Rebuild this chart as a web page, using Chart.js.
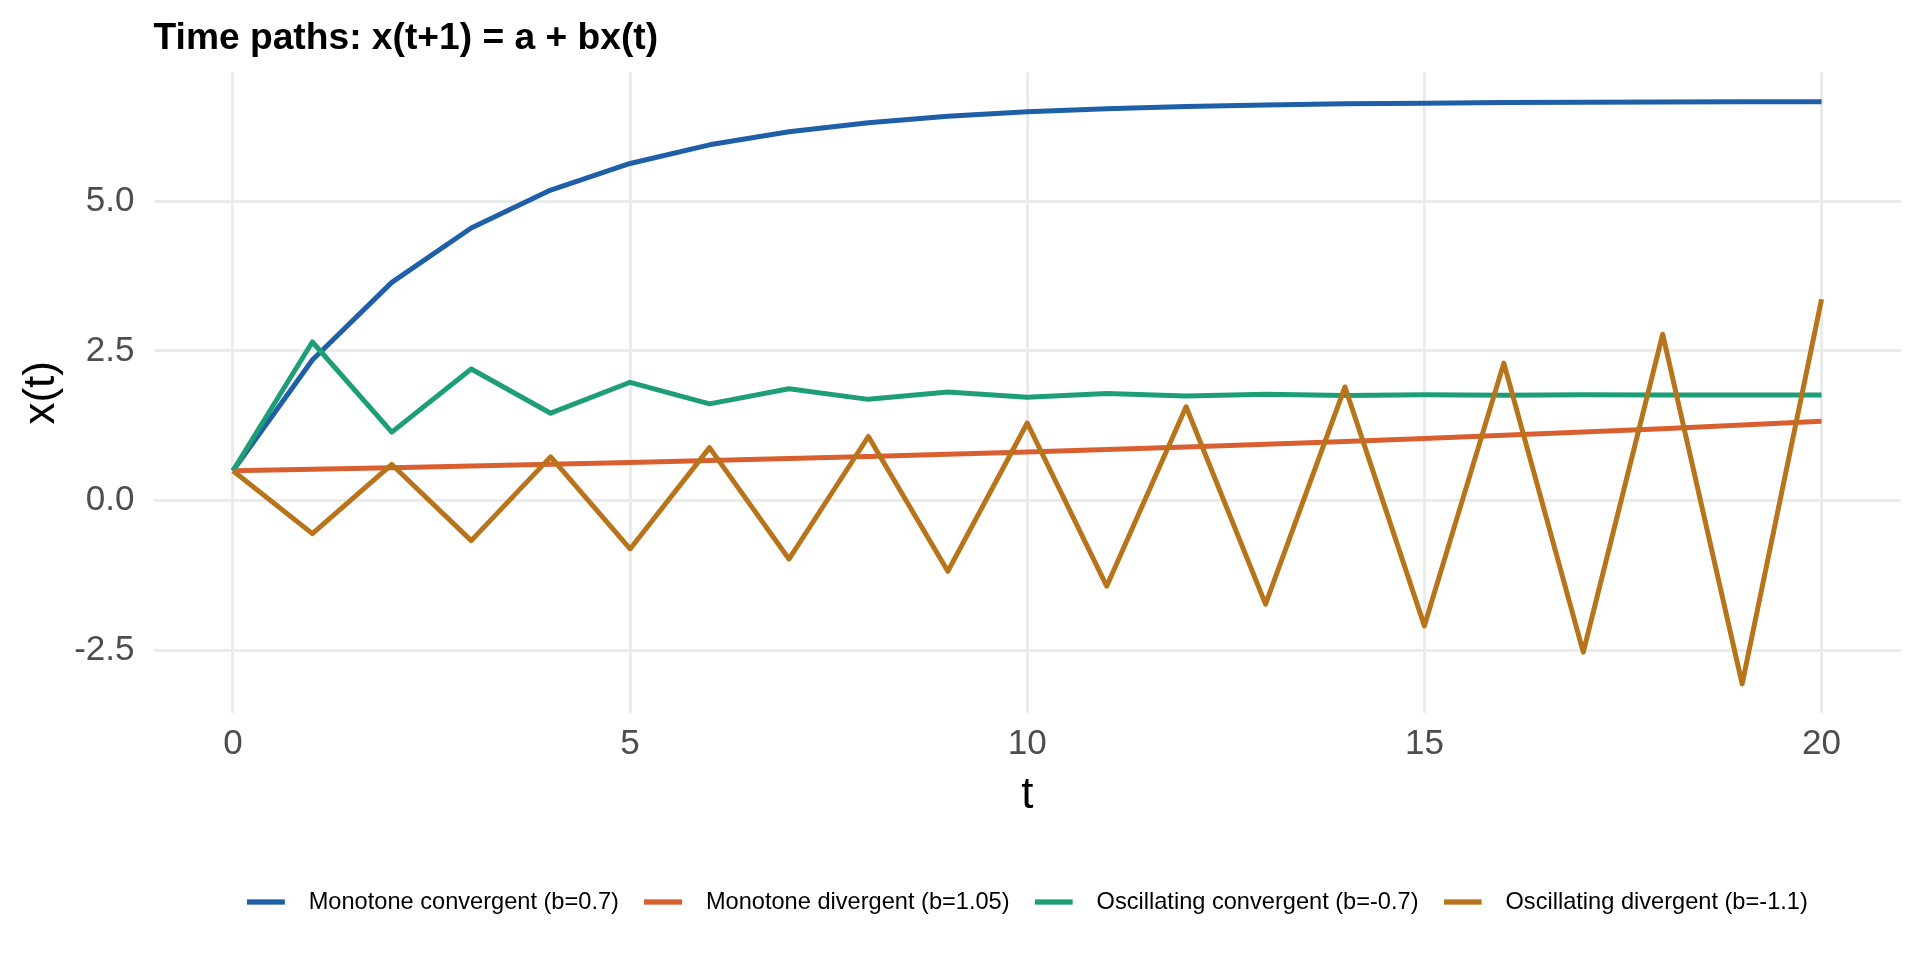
<!DOCTYPE html>
<html>
<head>
<meta charset="utf-8">
<script src="https://cdn.jsdelivr.net/npm/chart.js@4.4.1/dist/chart.umd.min.js"></script>
<style>
  html, body { margin: 0; padding: 0; background: #ffffff; }
  #wrap { width: 1920px; height: 960px; position: relative; }
</style>
</head>
<body>
<div id="wrap"><canvas id="c"></canvas></div>
<script>
const titleText = "Time paths: x(t+1) = a + bx(t)";
const xTitle = "t";
const yTitle = "x(t)";
const tValues = [0, 1, 2, 3, 4, 5, 6, 7, 8, 9, 10, 11, 12, 13, 14, 15, 16, 17, 18, 19, 20];
const seriesNames = [
  "Monotone convergent (b=0.7)",
  "Monotone divergent (b=1.05)",
  "Oscillating convergent (b=-0.7)",
  "Oscillating divergent (b=-1.1)"
];
const monotoneConvergent = [0.5, 2.35, 3.645, 4.552, 5.186, 5.630, 5.941, 6.159, 6.311, 6.418, 6.493, 6.545, 6.581, 6.607, 6.625, 6.637, 6.646, 6.652, 6.657, 6.660, 6.662];
const monotoneDivergent = [0.5, 0.525, 0.551, 0.579, 0.608, 0.638, 0.670, 0.704, 0.739, 0.776, 0.814, 0.855, 0.898, 0.943, 0.990, 1.039, 1.091, 1.146, 1.203, 1.263, 1.327];
const oscillatingConvergent = [0.5, 2.65, 1.145, 2.199, 1.461, 1.977, 1.616, 1.869, 1.692, 1.816, 1.729, 1.790, 1.747, 1.777, 1.756, 1.771, 1.761, 1.768, 1.763, 1.766, 1.764];
const oscillatingDivergent = [0.5, -0.55, 0.605, -0.666, 0.732, -0.805, 0.886, -0.974, 1.072, -1.179, 1.297, -1.427, 1.569, -1.726, 1.899, -2.089, 2.297, -2.527, 2.780, -3.058, 3.364];
const xTicks = [0, 5, 10, 15, 20];
const yTicks = [-2.5, 0, 2.5, 5.0];
const yTickLabels = ["-2.5", "0.0", "2.5", "5.0"];
const seriesColors = ["#1F5FA8", "#D95F30", "#1E9E77", "#B8741A"];

const allSeries = [monotoneConvergent, monotoneDivergent, oscillatingConvergent, oscillatingDivergent];
const FONT = "'Liberation Sans', Arial, Helvetica, sans-serif";
const LEGEND_FONT_SIZE = 23.6;
const SWATCH_LEN = 38;
const SWATCH_SLOT = 50.2;

function makeSwatch(color) {
  const cv = document.createElement('canvas');
  cv.width = Math.round(SWATCH_SLOT);
  cv.height = 8;
  const g = cv.getContext('2d');
  g.fillStyle = color;
  g.fillRect(0, 1.35, SWATCH_LEN, 5.3);
  return cv;
}
const swatches = seriesColors.map(makeSwatch);

const datasets = allSeries.map((vals, i) => ({
  label: seriesNames[i],
  data: tValues.map((t, j) => ({ x: t, y: vals[j] })),
  borderColor: seriesColors[i],
  backgroundColor: seriesColors[i],
  borderWidth: 5,
  pointRadius: 0,
  pointHoverRadius: 0,
  tension: 0,
  fill: false,
  borderJoinStyle: 'round',
  borderCapStyle: 'butt',
  order: allSeries.length - i
}));

new Chart(document.getElementById('c'), {
  type: 'line',
  data: { datasets },
  options: {
    responsive: true,
    maintainAspectRatio: false,
    animation: false,
    devicePixelRatio: 1,
    layout: { padding: { left: 0, right: 19, top: 0, bottom: 36.2 } },
    plugins: {
      tooltip: { enabled: false },
      title: {
        display: true,
        text: titleText,
        align: 'start',
        fullSize: false,
        color: '#000000',
        font: { family: FONT, size: 37.2, weight: 'bold', lineHeight: 1.2 },
        padding: { top: 16.2, bottom: 11.7 }
      },
      legend: {
        display: true,
        position: 'bottom',
        fullSize: false,
        align: 'center',
        labels: {
          usePointStyle: true,
          pointStyleWidth: SWATCH_SLOT,
          boxHeight: 8,
          padding: 25,
          color: '#000000',
          font: { family: FONT, size: LEGEND_FONT_SIZE },
          sort: (a, b) => a.datasetIndex - b.datasetIndex,
          generateLabels: (chart) => {
            const items = Chart.defaults.plugins.legend.labels.generateLabels(chart);
            items.forEach(it => {
              it.pointStyle = swatches[it.datasetIndex];
              it.lineWidth = 0;
            });
            return items;
          }
        }
      }
    },
    scales: {
      x: {
        type: 'linear',
        min: -1,
        max: 21,
        afterBuildTicks: (scale) => { scale.ticks = xTicks.map(v => ({ value: v })); },
        afterFit: (scale) => { scale.height = 152.2; },
        ticks: {
          color: '#4D4D4D',
          font: { family: FONT, size: 35 },
          padding: 10,
          maxRotation: 0,
          autoSkip: false,
          callback: (v) => String(v)
        },
        grid: { color: '#EBEBEB', lineWidth: 3, drawTicks: false },
        border: { display: false },
        title: {
          display: true,
          text: xTitle,
          color: '#000000',
          font: { family: FONT, size: 44, lineHeight: 1.2 },
          padding: { top: 0, bottom: 42.8 }
        }
      },
      y: {
        type: 'linear',
        min: -3.544,
        max: 7.148,
        afterBuildTicks: (scale) => { scale.ticks = yTicks.map(v => ({ value: v })); },
        afterFit: (scale) => { scale.width = 153.5; },
        ticks: {
          color: '#4D4D4D',
          font: { family: FONT, size: 35 },
          padding: 19,
          autoSkip: false,
          callback: (v) => { const k = yTicks.indexOf(v); return k >= 0 ? yTickLabels[k] : ''; }
        },
        grid: { color: '#EBEBEB', lineWidth: 3, drawTicks: false },
        border: { display: false },
        title: {
          display: true,
          text: yTitle,
          color: '#000000',
          font: { family: FONT, size: 44, lineHeight: 1.2 },
          padding: { top: 15.6, bottom: 0 }
        }
      }
    }
  }
});
</script>
</body>
</html>
